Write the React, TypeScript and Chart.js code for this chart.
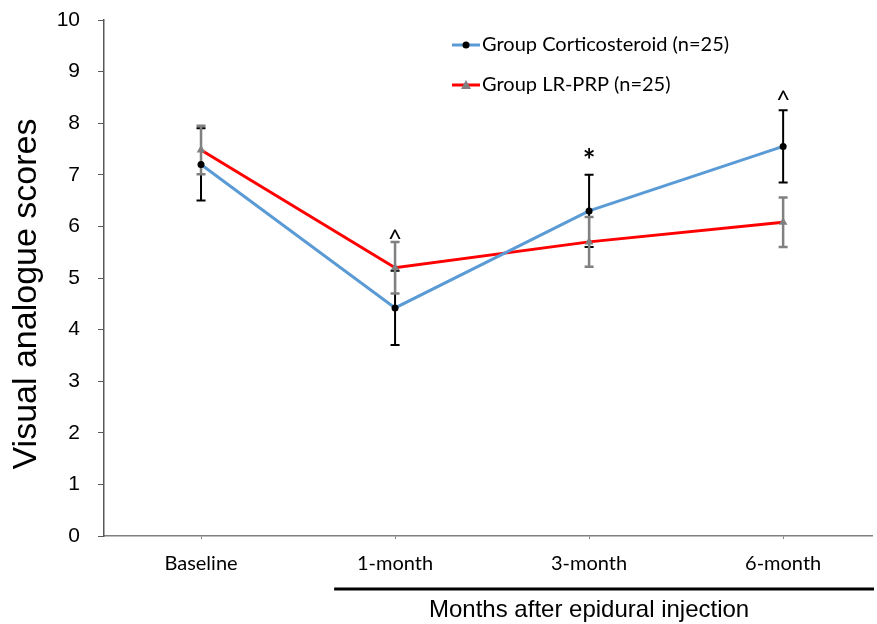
import React, { useEffect, useRef } from "react";
import { Chart, registerables } from "chart.js";

Chart.register(...registerables);

const categories = ["Baseline", "1-month", "3-month", "6-month"];
const corticoMean = [7.2, 4.42, 6.3, 7.55];
const corticoSD = [0.7, 0.72, 0.7, 0.7];
const prpMean = [7.48, 5.2, 5.7, 6.08];
const prpSD = [0.47, 0.5, 0.48, 0.48];
const markLabels = ["", "^", "*", "^"];
const markValues = [0, 5.84, 7.37, 8.52];
const seriesNames = ["Group Corticosteroid (n=25)", "Group LR-PRP (n=25)"];
const xTitle = "Months after epidural injection";
const yTitle = "Visual analogue scores";

const BLUE = "#5B9BD5";
const RED = "#FF0000";
const GRAY = "#808080";
const CAL = "Lato, 'Open Sans', sans-serif";
const ARIAL = "'Liberation Sans', Arial, sans-serif";

const errorBarPlugin = {
  id: "errorBars",
  beforeDatasetsDraw(chart: any) {
    const ctx = chart.ctx;
    const xs = chart.scales.x;
    const ys = chart.scales.y;
    const sets = [
      { mean: corticoMean, sd: corticoSD, color: "#000000", w: 2 },
      { mean: prpMean, sd: prpSD, color: GRAY, w: 2.5 },
    ];
    ctx.save();
    sets.forEach((s) => {
      ctx.strokeStyle = s.color;
      ctx.lineWidth = s.w;
      s.mean.forEach((m, i) => {
        const x = xs.getPixelForValue(i);
        const yt = ys.getPixelForValue(m + s.sd[i]);
        const yb = ys.getPixelForValue(m - s.sd[i]);
        ctx.beginPath();
        ctx.moveTo(x, yt);
        ctx.lineTo(x, yb);
        ctx.moveTo(x - 4.5, yt);
        ctx.lineTo(x + 4.5, yt);
        ctx.moveTo(x - 4.5, yb);
        ctx.lineTo(x + 4.5, yb);
        ctx.stroke();
      });
    });
    ctx.restore();
  },
  afterDraw(chart: any) {
    const ctx = chart.ctx;
    const xs = chart.scales.x;
    const ys = chart.scales.y;
    ctx.save();
    // significance marks
    ctx.fillStyle = "#000";
    ctx.textAlign = "center";
    ctx.textBaseline = "middle";
    markLabels.forEach((t, i) => {
      if (!t) return;
      ctx.font = t === "*" ? `bold 30px ${CAL}` : `25px ${CAL}`;
      const dy = t === "*" ? 6 : 5;
      ctx.fillText(t, xs.getPixelForValue(i), ys.getPixelForValue(markValues[i]) + dy);
    });
    // y title
    ctx.save();
    ctx.translate(27, 294);
    ctx.rotate(-Math.PI / 2);
    ctx.font = `34px ${ARIAL}`;
    ctx.fillStyle = "#000";
    ctx.textAlign = "center";
    ctx.textBaseline = "middle";
    ctx.fillText(yTitle, 0, 0);
    ctx.restore();
    // legend
    const lx = 452;
    const legendY = [45, 85];
    const colors = [BLUE, RED];
    legendY.forEach((ly, k) => {
      ctx.strokeStyle = colors[k];
      ctx.lineWidth = 3;
      ctx.beginPath();
      ctx.moveTo(lx, ly);
      ctx.lineTo(lx + 28, ly);
      ctx.stroke();
      if (k === 0) {
        ctx.fillStyle = "#000";
        ctx.beginPath();
        ctx.arc(lx + 14, ly, 3.5, 0, Math.PI * 2);
        ctx.fill();
      } else {
        ctx.fillStyle = GRAY;
        ctx.beginPath();
        ctx.moveTo(lx + 14, ly - 5);
        ctx.lineTo(lx + 19, ly + 4);
        ctx.lineTo(lx + 9, ly + 4);
        ctx.closePath();
        ctx.fill();
      }
      ctx.fillStyle = "#000";
      ctx.font = `20px ${CAL}`;
      ctx.textAlign = "left";
      ctx.textBaseline = "middle";
      ctx.fillText(seriesNames[k], lx + 30, ly);
    });
    // bracket line and x title
    const lineY = 589;
    ctx.strokeStyle = "#000";
    ctx.lineWidth = 3;
    ctx.beginPath();
    ctx.moveTo(xs.getPixelForValue(0.686), lineY);
    ctx.lineTo(chart.width - 3, lineY);
    ctx.stroke();
    ctx.font = `24px ${ARIAL}`;
    ctx.fillStyle = "#000";
    ctx.textAlign = "center";
    ctx.textBaseline = "middle";
    ctx.fillText(xTitle, xs.getPixelForValue(2), 610);
    ctx.restore();
  },
};

export default function App() {
  const ref = useRef<HTMLCanvasElement | null>(null);
  useEffect(() => {
    if (!ref.current) return;
    const chart = new Chart(ref.current, {
      type: "line",
      data: {
        datasets: [
          {
            label: seriesNames[0],
            data: corticoMean.map((v, i) => ({ x: i, y: v })),
            borderColor: BLUE,
            borderWidth: 3,
            pointBackgroundColor: "#000",
            pointBorderColor: "#000",
            pointRadius: 3.5,
            pointBorderWidth: 0,
            pointStyle: "circle",
            tension: 0,
          },
          {
            label: seriesNames[1],
            data: prpMean.map((v, i) => ({ x: i, y: v })),
            borderColor: RED,
            borderWidth: 3,
            pointBackgroundColor: GRAY,
            pointBorderColor: GRAY,
            pointRadius: 5,
            pointBorderWidth: 0,
            pointStyle: "triangle",
            tension: 0,
          },
        ],
      },
      options: {
        responsive: false,
        animation: false,
        layout: { padding: { top: 20, right: 0, left: 0, bottom: 0 } },
        plugins: { legend: { display: false }, tooltip: { enabled: false } },
        scales: {
          x: {
            type: "linear",
            min: -0.5,
            max: 3.458,
            afterBuildTicks: (s: any) => {
              s.ticks = categories.map((_, i) => ({ value: i }));
            },
            afterFit: (s: any) => {
              s.height = 88;
              s.paddingLeft = 0;
              s.paddingRight = 0;
            },
            grid: { drawOnChartArea: false, tickLength: 3, color: GRAY },
            border: { color: GRAY, width: 1.5 },
            ticks: {
              callback: (v: any) => categories[v as number] ?? "",
              color: "#000",
              font: { family: CAL, size: 20 },
              padding: 13,
              maxRotation: 0,
              autoSkip: false,
            },
          },
          y: {
            min: 0,
            max: 10,
            afterFit: (s: any) => {
              s.width = 104;
              s.paddingTop = 0;
              s.paddingBottom = 0;
            },
            grid: { drawOnChartArea: false, tickLength: 6, color: "#595959" },
            border: { color: "#595959", width: 1.5 },
            ticks: {
              stepSize: 1,
              color: "#000",
              font: { family: ARIAL, size: 21 },
              padding: 18,
            },
          },
        },
      },
      plugins: [errorBarPlugin],
    } as any);
    return () => chart.destroy();
  }, []);
  return (
    <div style={{ position: "absolute", left: 0, top: 0, width: 877, height: 624, background: "#fff" }}>
      <canvas ref={ref} width={877} height={624} />
    </div>
  );
}
